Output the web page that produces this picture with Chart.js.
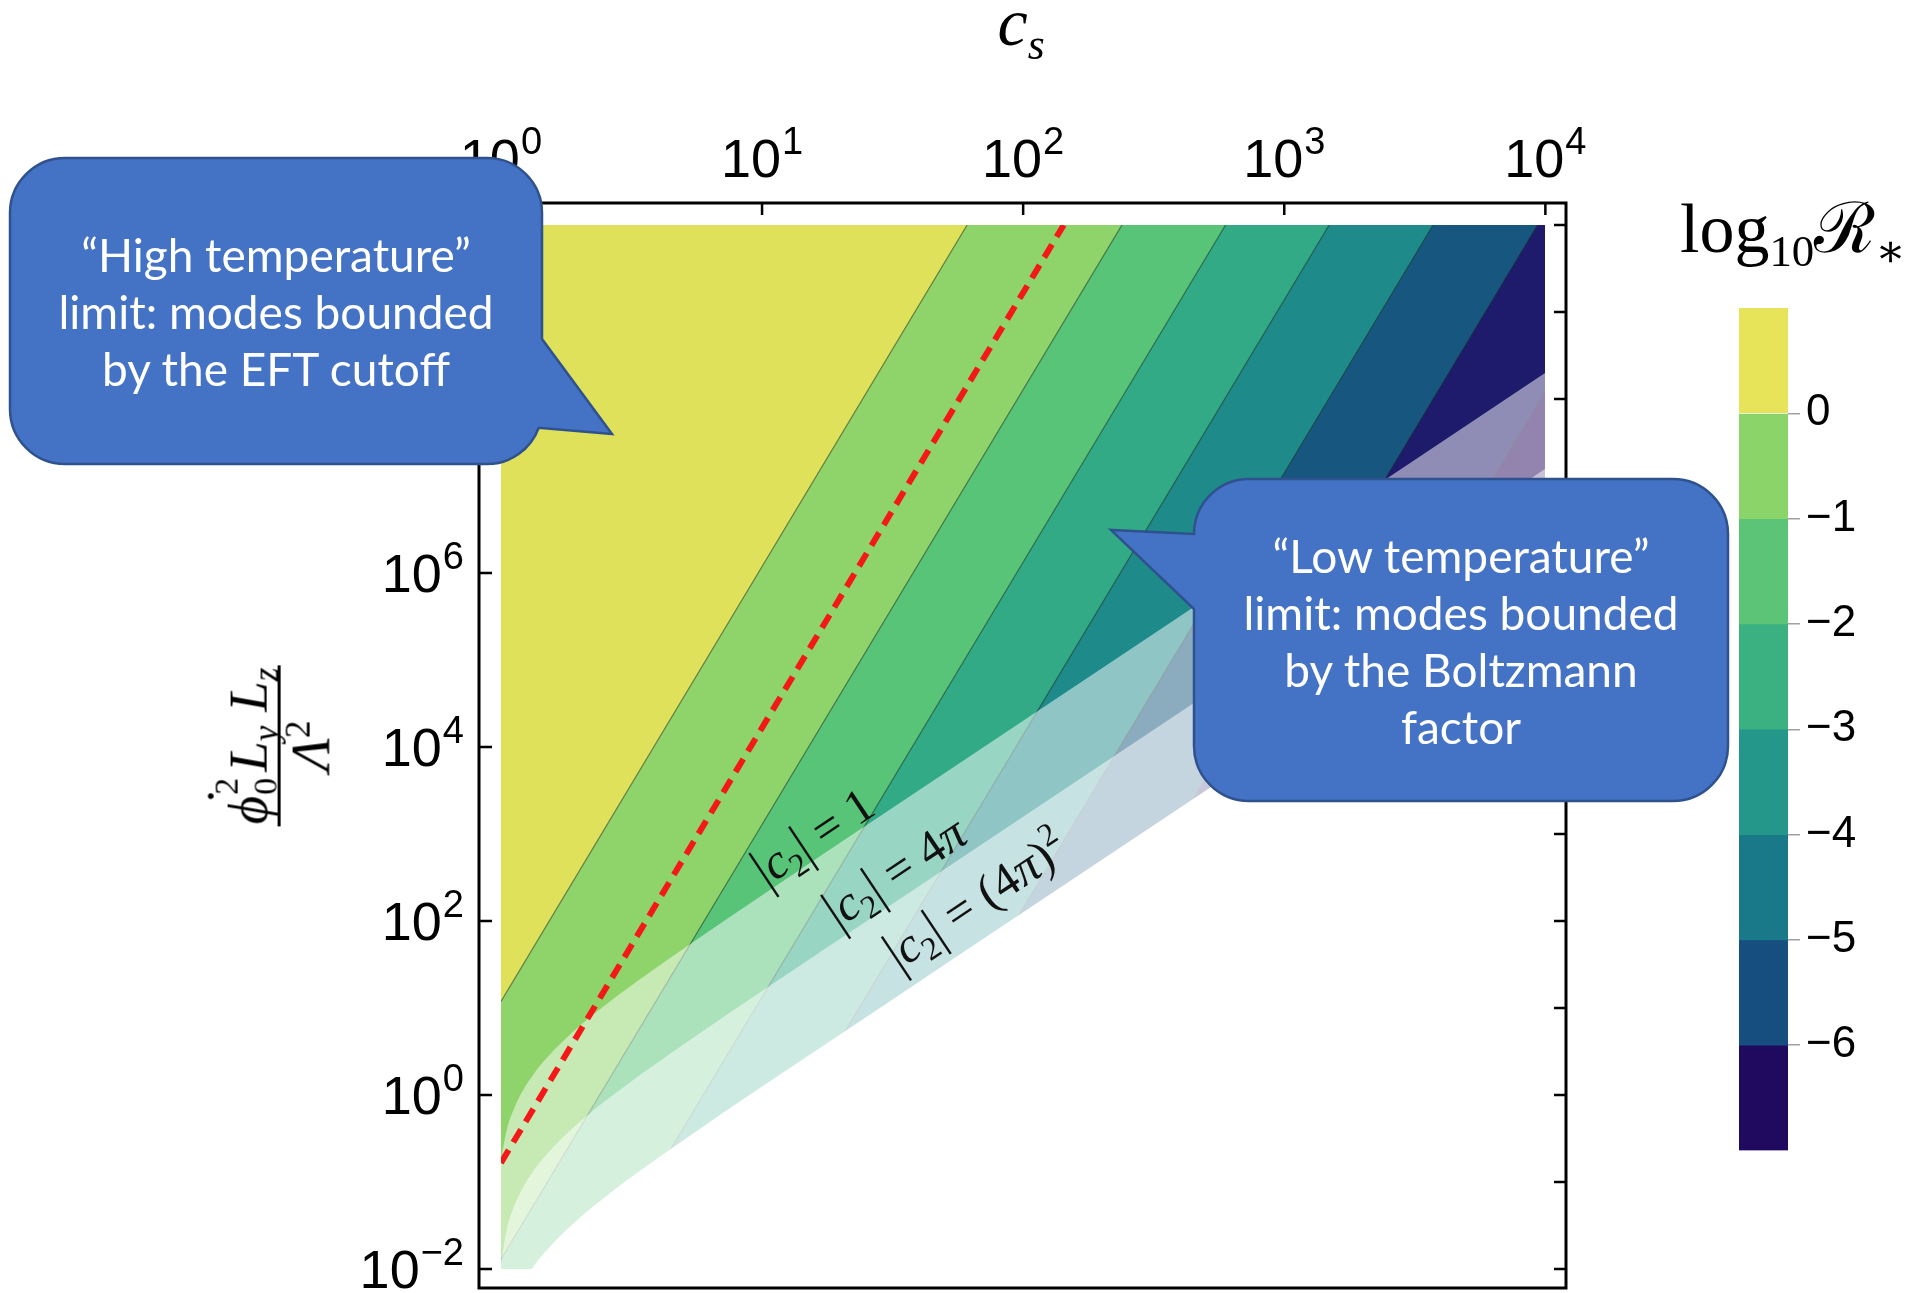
<!DOCTYPE html>
<html>
<head>
<meta charset="utf-8">
<script src="https://cdn.jsdelivr.net/npm/chart.js@4.4.0/dist/chart.umd.min.js"></script>
<style>
  html, body { margin: 0; padding: 0; background: #fff; }
  #wrap { position: relative; width: 1911px; height: 1293px; overflow: hidden; background: #fff; }
  #main { position: absolute; left: 0; top: 0; }
  #cbar { position: absolute; left: 1739px; top: 268px; }
  .math { position: absolute; font-family: "Liberation Serif", "DejaVu Serif", serif; color: #000; white-space: nowrap; line-height: 1; }
  .math sub { font-size: 0.64em; vertical-align: -0.32em; line-height: 0; }
  .math sup { font-size: 0.64em; vertical-align: 0.55em; line-height: 0; }
  #xTitle { left: 1021px; top: 22px; transform: translate(-50%, -50%); font-size: 68px; font-style: italic; }
  #xTitle sub { font-style: italic; }
  #cbTitle { left: 1680px; top: 194px; font-size: 70px; }
  #yTitle { left: 276px; top: 746px; transform: translate(-50%, -50%) rotate(-90deg); }
  .frac { display: flex; flex-direction: column; align-items: center; font-size: 55px; }
  .frac .num, .frac .den { display: block; padding: 0 2px; line-height: 1.08; }
  .frac .bar { display: block; width: 100%; height: 3px; background: #000; }
  .dotted { position: relative; display: inline-block; }
  .dotted .dot { position: absolute; left: 19px; top: -22px; font-style: normal; }
  .ss { position: relative; display: inline-block; width: 24px; height: 55px; }
  .ss span { position: absolute; left: 1px; font-size: 34px; line-height: 1; font-style: normal; }
  .ss .ssup { top: -2px; }
  .ss .ssub { top: 37px; }
  #callouts { position: absolute; left: 0; top: 0; }
  .note { position: absolute; color: #fff; font-family: Lato, "Open Sans", sans-serif; font-size: 46px; line-height: 57px; text-align: center; }
</style>
</head>
<body>
<div id="wrap">
  <canvas id="main" width="1911" height="1293"></canvas>
  <canvas id="cbar" width="172" height="923"></canvas>

  <div id="xTitle" class="math">c<sub>s</sub></div>
  <div id="yTitle" class="math">
    <div class="frac">
      <span class="num"><span class="dotted"><i>ϕ</i><span class="dot">˙</span></span><span class="ss"><span class="ssup">2</span><span class="ssub">0</span></span><i>L</i><sub><i>y</i></sub> <i>L</i><sub><i>z</i></sub></span>
      <span class="bar"></span>
      <span class="den"><i>Λ</i><sup>2</sup></span>
    </div>
  </div>
  <div id="cbTitle" class="math">log<sub>10</sub>ℛ<sub>∗</sub></div>

  <svg id="callouts" width="1911" height="1293" viewBox="0 0 1911 1293">
    <path d="M 65 158 H 487 A 55 55 0 0 1 542 213 V 339 L 612 434 L 538.7 427.8 A 55 55 0 0 1 487 464 H 65 A 55 55 0 0 1 10 409 V 213 A 55 55 0 0 1 65 158 Z"
          fill="#4472c4" stroke="#2f528f" stroke-width="2.5"/>
    <path d="M 1249 479 H 1673 A 55 55 0 0 1 1728 534 V 746 A 55 55 0 0 1 1673 801 H 1249 A 55 55 0 0 1 1194 746 V 609 L 1111 530 L 1194 534 A 55 55 0 0 1 1249 479 Z"
          fill="#4472c4" stroke="#2f528f" stroke-width="2.5"/>
  </svg>
  <div class="note" style="left:10px; width:532px; top:226px;">“High temperature”<br>limit: modes bounded<br>by the EFT cutoff</div>
  <div class="note" style="left:1194px; width:534px; top:527px;">“Low temperature”<br>limit: modes bounded<br>by the Boltzmann<br>factor</div>
</div>

<script>
// ---- axes ----
const X_TICK_EXPONENTS = [0, 1, 2, 3, 4];                 // c_s decades (top axis)
const Y_LABEL_EXPONENTS = [-2, 0, 2, 4, 6, 8];            // labelled decades (left axis)
const Y_TICK_EXPONENTS = [-2, -1, 0, 1, 2, 3, 4, 5, 6, 7, 8, 9, 10]; // right axis ticks
const X_AXIS_RANGE = [Math.pow(10, -0.084), Math.pow(10, 4.079)];
const Y_AXIS_RANGE = [Math.pow(10, -2.218), Math.pow(10, 10.253)];
const CS_DOMAIN = [1, 1e4];                               // computed c_s range
const Y_DOMAIN = [1e-2, 1e10];                            // computed phi'^2 LyLz / Lambda^2 range

// ---- contours of log10 R_* (straight lines in log-log), [c_s, y] end points ----
const CONTOUR_LEVELS = [0, -1, -2, -3, -4, -5, -6];
const CONTOUR_START = [[1, 11.9], [1, 0.0129], [2.37, 0.01], [5.92, 0.01], [14.8, 0.01], [37.2, 0.01], [95.5, 0.01]];
const CONTOUR_END = [[61, 1e10], [239, 1e10], [596, 1e10], [1486, 1e10], [3715, 1e10], [9333, 1e10], [1e4, 1.26e8]];

// ---- red dashed line ----
const DASHED_LINE = [[1, 0.166], [143, 1e10]];

// ---- |c2| bounds, [c_s, y] ----
const BOUND_C2_1 = [[1, 0.175], [1.05, 0.385], [1.1, 0.60], [1.2, 1.06], [1.35, 1.83], [1.5, 2.68], [2, 6.2], [3, 16.2], [5, 48], [10, 198], [30, 1800], [100, 2.0e4], [1000, 2.0e6], [1e4, 2.0e8]];
const BOUND_C2_4PI = [[1, 0.0115], [1.05, 0.028], [1.1, 0.045], [1.2, 0.081], [1.35, 0.142], [1.5, 0.21], [2, 0.49], [3, 1.28], [5, 3.8], [10, 15.7], [30, 142], [100, 1580], [1000, 1.58e5], [1e4, 1.58e7]];
const BOUND_C2_4PI_SQ = [[1.31, 0.01], [1.4, 0.013], [1.6, 0.0205], [2, 0.0387], [2.5, 0.067], [3, 0.102], [5, 0.303], [10, 1.25], [30, 11.3], [100, 126], [1000, 1.26e4], [1e4, 1.26e6]];

// ---- bound labels: anchor [c_s, y] ----
const BOUND_LABEL_AT = [[15.7, 933], [32.3, 370], [66, 175]];
const BOUND_LABEL_VALUE = ['1', '4π', '(4π)2'];

// ---- colour bar ----
const CB_BOUNDS = [1, 0, -1, -2, -3, -4, -5, -6, -7];
const CB_TICKS = [0, -1, -2, -3, -4, -5, -6];

// ---- palette ----
const BAND_COLORS = ['#dfe15b', '#8fd46a', '#57c478', '#31aa85', '#1f8a8a', '#17577f', '#1e1b6d', '#25095e'];
const CB_COLORS = ['#e8e45a', '#8bd46a', '#5cc477', '#3bb081', '#25968a', '#1a7989', '#174e80', '#1f0a60'];
const SANS = '"Liberation Sans", Arial, Helvetica, sans-serif';
const SERIF = '"Liberation Serif", "DejaVu Serif", serif';

const pt = ([x, y]) => ({ x, y });

// ---------- datasets ----------
const datasets = [];
const corner = { x: X_AXIS_RANGE[1], y: Y_AXIS_RANGE[1] };

// base band (log10 R_* > 0)
datasets.push({
  data: [{ x: CS_DOMAIN[0], y: Y_DOMAIN[1] }, corner],
  fill: 'start', backgroundColor: BAND_COLORS[0],
  borderWidth: 0, borderColor: 'transparent', order: 100
});
// each band lies to the right of its contour
CONTOUR_LEVELS.forEach((lvl, i) => {
  datasets.push({
    data: [pt(CONTOUR_START[i]), pt(CONTOUR_END[i]), corner],
    fill: 'start', backgroundColor: BAND_COLORS[i + 1],
    borderWidth: 0, borderColor: 'transparent', order: 90 - i
  });
});
// thin contour lines
CONTOUR_LEVELS.forEach((lvl, i) => {
  datasets.push({
    data: [pt(CONTOUR_START[i]), pt(CONTOUR_END[i])],
    fill: false, borderColor: 'rgba(30,45,40,0.55)', borderWidth: 1.2, order: 60
  });
});
// washes below the |c2| = 1 and |c2| = 4pi bounds
datasets.push({
  data: BOUND_C2_1.map(pt), fill: 'start', backgroundColor: 'rgba(255,255,255,0.5)',
  borderWidth: 0, borderColor: 'transparent', cubicInterpolationMode: 'monotone', order: 40
});
datasets.push({
  data: BOUND_C2_4PI.map(pt), fill: 'start', backgroundColor: 'rgba(255,255,255,0.5)',
  borderWidth: 0, borderColor: 'transparent', cubicInterpolationMode: 'monotone', order: 39
});
// outside |c2| = (4pi)^2 nothing is shown
datasets.push({
  data: BOUND_C2_4PI_SQ.map(pt), fill: 'start', backgroundColor: '#ffffff',
  borderWidth: 0, borderColor: 'transparent', cubicInterpolationMode: 'monotone', order: 38
});
// red dashed line
datasets.push({
  data: DASHED_LINE.map(pt), fill: false, borderColor: '#f41818', borderWidth: 6,
  borderDash: [15, 9], borderCapStyle: 'butt', order: 10
});

// ---------- plugins ----------
const domainClip = {
  id: 'domainClip',
  beforeDatasetsDraw(chart) {
    const { ctx, scales: { x, y } } = chart;
    const l = Math.round(x.getPixelForValue(CS_DOMAIN[0])), r = Math.floor(x.getPixelForValue(CS_DOMAIN[1]));
    const t = Math.round(y.getPixelForValue(Y_DOMAIN[1])), b = Math.round(y.getPixelForValue(Y_DOMAIN[0]));
    ctx.save();
    ctx.beginPath();
    ctx.rect(l, t, r - l, b - t);
    ctx.clip();
  },
  afterDatasetsDraw(chart) { chart.ctx.restore(); }
};

function drawPower(ctx, exp, x, baseline, align) {
  const base = '10';
  const sup = exp < 0 ? '\u2212' + (-exp) : String(exp);
  ctx.font = '54px ' + SANS;
  const wb = ctx.measureText(base).width;
  ctx.font = '38px ' + SANS;
  const ws = ctx.measureText(sup).width;
  const total = wb + ws + 1;
  const x0 = align === 'center' ? x - total / 2 : x - total;
  ctx.textAlign = 'left';
  ctx.textBaseline = 'alphabetic';
  ctx.font = '54px ' + SANS;
  ctx.fillText(base, x0, baseline);
  ctx.font = '38px ' + SANS;
  ctx.fillText(sup, x0 + wb + 1, baseline - 23);
}

function boundRuns(value) {
  const runs = [{ t: '|' }, { t: 'c', it: true }, { t: '2', sub: true }, { t: '| = ' }];
  if (value === '1') runs.push({ t: '1' });
  else if (value === '4π') runs.push({ t: '4' }, { t: 'π', it: true });
  else runs.push({ t: '(4' }, { t: 'π', it: true }, { t: ')' }, { t: '2', sup: true });
  return runs;
}

function drawRuns(ctx, runs, size) {
  const fonts = runs.map(r => (r.it ? 'italic ' : '') + ((r.sub || r.sup) ? size * 0.66 : size) + 'px ' + SERIF);
  const widths = runs.map((r, i) => { ctx.font = fonts[i]; return ctx.measureText(r.t).width; });
  const total = widths.reduce((a, b) => a + b, 0);
  let cx = -total / 2;
  runs.forEach((r, i) => {
    ctx.font = fonts[i];
    const dy = r.sub ? size * 0.2 : r.sup ? -size * 0.42 : 0;
    if (r.t.startsWith('|')) {
      // taller delimiters
      ctx.save();
      ctx.translate(cx, size * 0.33 + dy);
      ctx.scale(1, 1.18);
      ctx.fillText('|', 0, 0.04 * size);
      ctx.restore();
      const wbar = ctx.measureText('|').width;
      ctx.fillText(r.t.slice(1), cx + wbar, size * 0.33 + dy);
    } else {
      ctx.fillText(r.t, cx, size * 0.33 + dy);
    }
    cx += widths[i];
  });
}

const axesFrame = {
  id: 'axesFrame',
  afterDraw(chart) {
    const { ctx, chartArea: a, scales: { x, y } } = chart;
    ctx.save();

    // |c2| bound labels, aligned with the slope of the bounds
    const p1x = x.getPixelForValue(10), p1y = y.getPixelForValue(100);
    const p2x = x.getPixelForValue(100), p2y = y.getPixelForValue(1e4);
    const ang = Math.atan2(p2y - p1y, p2x - p1x);
    ctx.fillStyle = '#111';
    ctx.textAlign = 'left';
    ctx.textBaseline = 'alphabetic';
    BOUND_LABEL_AT.forEach((at, i) => {
      ctx.save();
      ctx.translate(x.getPixelForValue(at[0]), y.getPixelForValue(at[1]));
      ctx.rotate(ang);
      drawRuns(ctx, boundRuns(BOUND_LABEL_VALUE[i]), 49);
      ctx.restore();
    });

    // frame
    ctx.setLineDash([]);
    ctx.strokeStyle = '#000';
    ctx.lineWidth = 3;
    ctx.strokeRect(a.left, a.top, a.right - a.left, a.bottom - a.top);

    // inward ticks
    ctx.lineWidth = 2.5;
    ctx.beginPath();
    X_TICK_EXPONENTS.forEach(e => {
      const px = x.getPixelForValue(Math.pow(10, e));
      ctx.moveTo(px, a.top); ctx.lineTo(px, a.top + 12);
    });
    Y_LABEL_EXPONENTS.forEach(e => {
      const py = y.getPixelForValue(Math.pow(10, e));
      ctx.moveTo(a.left, py); ctx.lineTo(a.left + 13, py);
    });
    Y_TICK_EXPONENTS.forEach(e => {
      const py = y.getPixelForValue(Math.pow(10, e));
      ctx.moveTo(a.right, py); ctx.lineTo(a.right - 12, py);
    });
    ctx.stroke();

    // tick labels
    ctx.fillStyle = '#000';
    X_TICK_EXPONENTS.forEach(e => drawPower(ctx, e, x.getPixelForValue(Math.pow(10, e)), a.top - 26, 'center'));
    Y_LABEL_EXPONENTS.forEach(e => drawPower(ctx, e, a.left - 15, y.getPixelForValue(Math.pow(10, e)) + 19, 'right'));
    ctx.restore();
  }
};

new Chart(document.getElementById('main'), {
  type: 'line',
  data: { datasets },
  options: {
    responsive: false,
    animation: false,
    devicePixelRatio: 1,
    events: [],
    layout: { padding: { left: 479, right: 345, top: 203, bottom: 5 } },
    plugins: { legend: { display: false }, tooltip: { enabled: false } },
    elements: { point: { radius: 0 }, line: { tension: 0 } },
    scales: {
      x: { type: 'logarithmic', min: X_AXIS_RANGE[0], max: X_AXIS_RANGE[1], bounds: 'data', display: false },
      y: { type: 'logarithmic', min: Y_AXIS_RANGE[0], max: Y_AXIS_RANGE[1], bounds: 'data', display: false }
    }
  },
  plugins: [domainClip, axesFrame]
});

// ---------- colour bar ----------
new Chart(document.getElementById('cbar'), {
  type: 'bar',
  data: {
    labels: [''],
    datasets: CB_COLORS.map((c, i) => ({
      data: [[CB_BOUNDS[i + 1], CB_BOUNDS[i]]],
      backgroundColor: c, borderWidth: 0,
      barPercentage: 1, categoryPercentage: 1, grouped: false
    }))
  },
  options: {
    responsive: false,
    animation: false,
    devicePixelRatio: 1,
    events: [],
    layout: { padding: { top: 40, bottom: 40.5, left: 0, right: 0 } },
    plugins: { legend: { display: false }, tooltip: { enabled: false } },
    scales: {
      x: { display: false },
      y: {
        position: 'right', min: CB_BOUNDS[CB_BOUNDS.length - 1], max: CB_BOUNDS[0],
        afterBuildTicks: s => { s.ticks = CB_TICKS.map(v => ({ value: v })); },
        afterFit: s => { s.width = 123; },
        ticks: {
          callback: v => v < 0 ? '\u2212' + (-v) : String(v),
          font: { family: SANS, size: 44 }, color: '#000', padding: 6
        },
        grid: { drawOnChartArea: false, drawTicks: true, tickLength: 12, color: '#a0a0a0', lineWidth: 1.5 },
        border: { display: false }
      }
    }
  }
});
</script>
</body>
</html>
